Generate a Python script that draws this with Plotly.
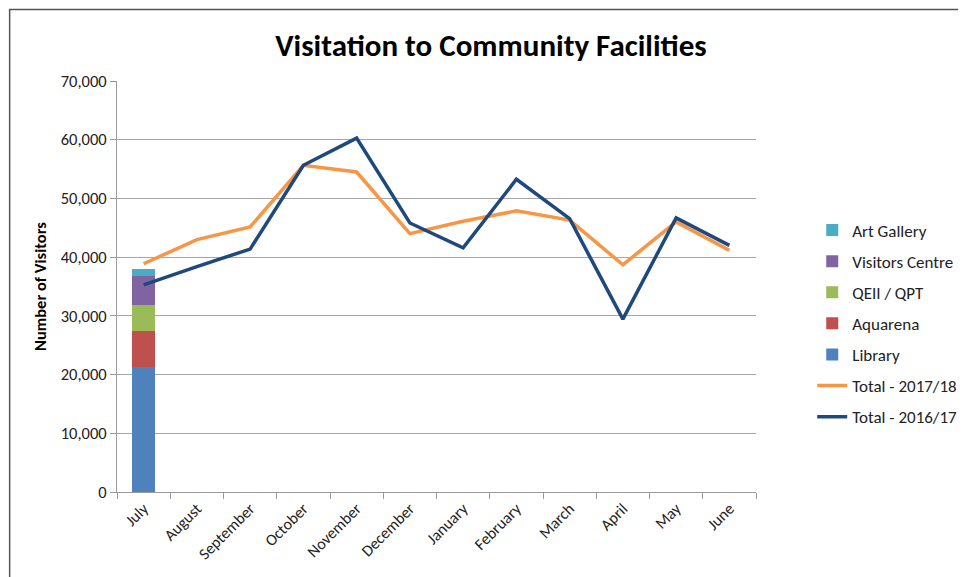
import plotly.graph_objects as go

months = ['July', 'August', 'September', 'October', 'November', 'December',
          'January', 'February', 'March', 'April', 'May', 'June']

# July 2017/18 breakdown by facility (stacked bar)
library = [21350]
aquarena = [6130]
qeii_qpt = [4380]
visitors_centre = [4940]
art_gallery = [1190]

total_1718 = [38870, 42980, 45140, 55650, 54500, 44000, 46100, 47880, 46300, 38700, 46000, 41150]
total_1617 = [35270, 38400, 41370, 55650, 60280, 45820, 41600, 53260, 46550, 29450, 46680, 42000]

FONT = 'Calibri, Carlito, Lato, sans-serif'

fig = go.Figure()

bars = [
    ('Library', library, '#4F81BD', 5),
    ('Aquarena', aquarena, '#C0504D', 4),
    ('QEII / QPT', qeii_qpt, '#9BBB59', 3),
    ('Visitors Centre', visitors_centre, '#8064A2', 2),
    ('Art Gallery', art_gallery, '#4BACC6', 1),
]
for name, vals, color, rank in bars:
    fig.add_trace(go.Bar(
        x=months[:len(vals)], y=vals, name=name,
        marker=dict(color=color, line=dict(width=0)),
        width=0.43, legendrank=rank, legendgroup=name
    ))

fig.add_trace(go.Scatter(
    x=months, y=total_1718, name='Total - 2017/18', mode='lines',
    line=dict(color='#F79646', width=3.5), legendrank=6, legendgroup='t1718'
))
fig.add_trace(go.Scatter(
    x=months, y=total_1617, name='Total - 2016/17', mode='lines',
    line=dict(color='#1F497D', width=3.5), legendrank=7, legendgroup='t1617'
))

# page body has an 8px margin, so the figure sits 8px right/down
fig.update_layout(
    width=966, height=577,
    barmode='stack',
    paper_bgcolor='white', plot_bgcolor='white',
    font=dict(family=FONT, size=14, color='#222222'),
    margin=dict(l=109, r=218, t=73, b=93),
    title=dict(text='<b>Visitation to Community Facilities</b>',
               font=dict(size=31, color='black', family=FONT),
               x=0.5, xanchor='center', y=0.936, yanchor='middle'),
    xaxis=dict(
        categoryorder='array', categoryarray=months,
        showgrid=False, showline=True, linecolor='#9a9a9a', linewidth=1,
        ticks='outside', tickson='boundaries', ticklen=6, tickcolor='#9a9a9a',
        tickangle=-45, tickfont=dict(size=16, color='#222222'),
        range=[-0.5, 11.5]
    ),
    yaxis=dict(
        range=[0, 70000], dtick=10000, tickformat=',d',
        showgrid=True, gridcolor='#a6a6a6', gridwidth=1,
        showline=True, linecolor='#9a9a9a', linewidth=1,
        ticks='outside', ticklen=6, tickcolor='#9a9a9a',
        tickfont=dict(size=16.5, color='#222222'),
        zeroline=False,
        title=dict(text='<b>Number of Visitors</b>', font=dict(size=16.5, color='black'),
                   standoff=9)
    ),
    legend=dict(
        x=1.088, xanchor='left', y=0.41, yanchor='middle',
        traceorder='grouped', tracegroupgap=6,
        font=dict(size=17, color='#222222'),
        itemwidth=30, bgcolor='rgba(0,0,0,0)'
    ),
    shapes=[dict(type='rect', xref='paper', yref='paper',
                 x0=-0.168, x1=1.4, y0=-0.3, y1=1.174,
                 line=dict(color='#555555', width=1.5), layer='below')]
)

fig.write_html("out.html")
